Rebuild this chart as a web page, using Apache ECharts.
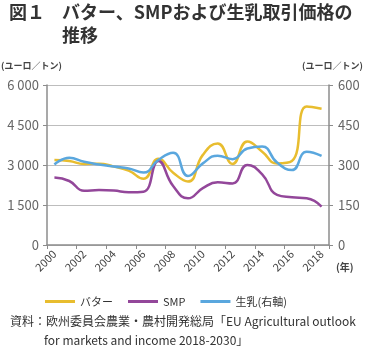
<!DOCTYPE html>
<html>
<head>
<meta charset="utf-8">
<script src="https://cdn.jsdelivr.net/npm/echarts@6/dist/echarts.min.js"></script>
<style>
  html, body { margin: 0; padding: 0; background: #fff; }
  #chart { width: 365px; height: 352px; }
</style>
</head>
<body>
<div id="chart"></div>
<script>
// years on the x axis
var years = ['2000', '2001', '2002', '2003', '2004', '2005', '2006', '2007', '2008', '2009',
  '2010', '2011', '2012', '2013', '2014', '2015', '2016', '2017', '2018']

// euro / tonne, left axis
var butter = [3190, 3150, 3040, 3050, 2940, 2790, 2480, 3230, 2710, 2380,
  3380, 3810, 3040, 3880, 3500, 3060, 3150, 5190, 5110]
var smp = [2530, 2400, 2030, 2060, 2040, 1980, 2000, 3150, 2210, 1750,
  2130, 2350, 2310, 3000, 2650, 1880, 1790, 1750, 1440]

// euro / tonne, right axis
var rawMilk = [302, 327, 312, 302, 294, 287, 272, 319, 346, 259,
  306, 335, 322, 362, 369, 309, 281, 350, 334]

var leftTicks = { min: 0, max: 6000, interval: 1500 }
var rightTicks = { min: 0, max: 600, interval: 150 }

var FONT = '"Noto Sans CJK JP", "Noto Sans", sans-serif'
var AXIS_GRAY = '#8c8c8c'

function fmtThousands (v) {
  return v >= 1000 ? Math.floor(v / 1000) + ' ' + String(v % 1000).padStart(3, '0') : String(v)
}

var chart = echarts.init(document.getElementById('chart'), null, { renderer: 'canvas' })

chart.setOption({
  animation: false,
  textStyle: { fontFamily: FONT },
  grid: { left: 47, right: 36, top: 85, bottom: 107 },
  legend: {
    left: 40,
    top: 291,
    icon: 'rect',
    itemWidth: 30,
    itemHeight: 3,
    itemGap: 15,
    textStyle: { fontSize: 11, color: '#333', fontFamily: FONT },
    data: ['バター', 'SMP', '生乳(右軸)']
  },
  xAxis: {
    type: 'category',
    data: years,
    boundaryGap: true,
    axisLine: { lineStyle: { color: AXIS_GRAY, width: 1.5 } },
    axisTick: { show: true, length: 4, lineStyle: { color: AXIS_GRAY } },
    axisLabel: { interval: 1, rotate: 45, fontSize: 11, color: '#444', margin: 7 }
  },
  yAxis: [
    {
      type: 'value',
      min: leftTicks.min,
      max: leftTicks.max,
      interval: leftTicks.interval,
      axisLine: { show: true, lineStyle: { color: AXIS_GRAY, width: 1.5 } },
      axisTick: { show: true, length: 4, lineStyle: { color: AXIS_GRAY } },
      splitLine: { lineStyle: { color: '#bdbdbd', width: 1.2 } },
      axisLabel: { fontSize: 13, color: '#666', margin: 8, formatter: fmtThousands }
    },
    {
      type: 'value',
      min: rightTicks.min,
      max: rightTicks.max,
      interval: rightTicks.interval,
      axisLine: { show: true, lineStyle: { color: AXIS_GRAY, width: 1.5 } },
      axisTick: { show: true, length: 4, lineStyle: { color: AXIS_GRAY } },
      splitLine: { show: false },
      axisLabel: { fontSize: 13, color: '#666', margin: 9 }
    }
  ],
  series: [
    {
      name: 'バター', type: 'line', data: butter, yAxisIndex: 0,
      smooth: 0.5, showSymbol: false,
      lineStyle: { color: '#E8BD2F', width: 2.5 }, itemStyle: { color: '#E8BD2F' }
    },
    {
      name: 'SMP', type: 'line', data: smp, yAxisIndex: 0,
      smooth: 0.5, showSymbol: false,
      lineStyle: { color: '#93479A', width: 2.5 }, itemStyle: { color: '#93479A' }
    },
    {
      name: '生乳(右軸)', type: 'line', data: rawMilk, yAxisIndex: 1,
      smooth: 0.5, showSymbol: false,
      lineStyle: { color: '#5AA7DE', width: 2.5 }, itemStyle: { color: '#5AA7DE' }
    }
  ],
  graphic: [
    // title, two lines
    { type: 'text', left: 9, top: 3,
      style: { text: '図１', font: 'bold 18px ' + FONT, fill: '#333' } },
    { type: 'text', left: 62, top: 3,
      style: { text: 'バター、SMPおよび生乳取引価格の', font: 'bold 18px ' + FONT, fill: '#333' } },
    { type: 'text', left: 62, top: 26,
      style: { text: '推移', font: 'bold 18px ' + FONT, fill: '#333' } },
    // axis units
    { type: 'text', left: 1, top: 61,
      style: { text: '(ユーロ／トン)', font: 'bold 9px ' + FONT, fill: '#444' } },
    { type: 'text', left: 302, top: 61,
      style: { text: '(ユーロ／トン)', font: 'bold 9px ' + FONT, fill: '#444' } },
    { type: 'text', left: 336, top: 262,
      style: { text: '(年)', font: 'bold 10px ' + FONT, fill: '#444' } },
    // source
    { type: 'text', left: 10, top: 315,
      style: { text: '資料：欧州委員会農業・農村開発総局「EU Agricultural outlook', font: '12px ' + FONT, fill: '#333' } },
    { type: 'text', left: 44, top: 334,
      style: { text: 'for markets and income 2018-2030」', font: '12px ' + FONT, fill: '#333' } }
  ]
})
</script>
</body>
</html>
